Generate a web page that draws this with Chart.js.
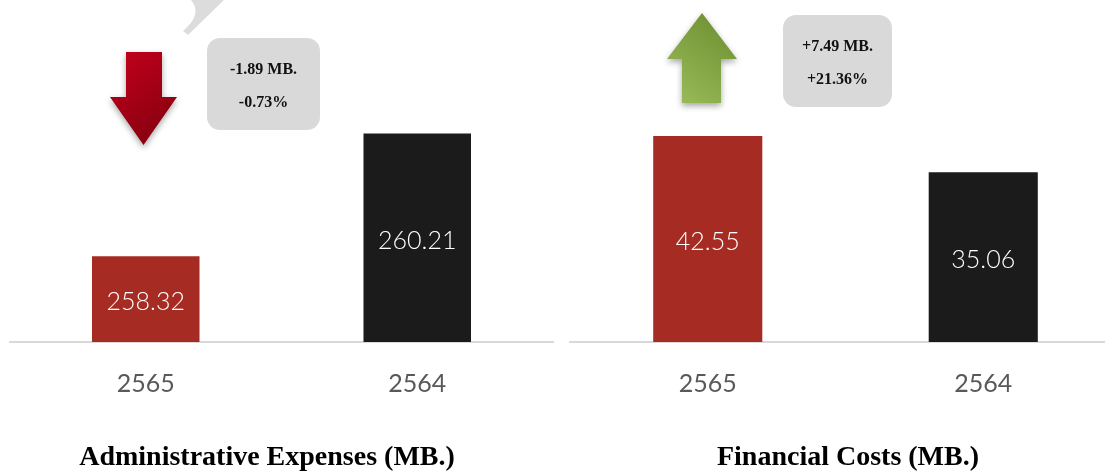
<!DOCTYPE html>
<html lang="en">
<head>
<meta charset="UTF-8">
<title>Administrative Expenses and Financial Costs</title>
<script src="https://cdn.jsdelivr.net/npm/chart.js"></script>
<style>
  html, body { margin: 0; padding: 0; background: #fff; overflow: hidden; }
  body { width: 1105px; height: 471px; position: relative; }
  .panel { position: absolute; top: 0; height: 471px; }
  #leftPanel { left: 0; width: 560px; }
  #rightPanel { left: 560px; width: 562px; }
</style>
</head>
<body>
<div class="panel" id="leftPanel"><canvas id="adminChart"></canvas></div>
<div class="panel" id="rightPanel"><canvas id="finChart"></canvas></div>
<script>
const years = ['2565', '2564'];
const adminValues = [258.32, 260.21];
const financeValues = [42.55, 35.06];
const adminChange = ['-1.89 MB.', '-0.73%'];
const financeChange = ['+7.49 MB.', '+21.36%'];
const barColors = ['#a62b22', '#1b1b1b'];

// white value text in the middle of each bar
const barValues = {
  id: 'barValues',
  afterDatasetsDraw(chart) {
    const ctx = chart.ctx;
    const meta = chart.getDatasetMeta(0);
    const data = chart.data.datasets[0].data;
    const bottom = chart.chartArea.bottom;
    ctx.save();
    ctx.fillStyle = '#ffffff';
    ctx.font = '300 25px Lato';
    ctx.textAlign = 'center';
    ctx.textBaseline = 'middle';
    meta.data.forEach((bar, i) => {
      const base = Math.min(bar.base, bottom);
      ctx.fillText(data[i].toFixed(2), bar.x, (bar.y + base) / 2 + 3);
    });
    ctx.restore();
  }
};

function roundBox(ctx, x, y, w, h, r) {
  ctx.beginPath();
  ctx.moveTo(x + r, y);
  ctx.arcTo(x + w, y, x + w, y + h, r);
  ctx.arcTo(x + w, y + h, x, y + h, r);
  ctx.arcTo(x, y + h, x, y, r);
  ctx.arcTo(x, y, x + w, y, r);
  ctx.closePath();
}

function drawCallout(ctx, box, lines) {
  ctx.save();
  ctx.fillStyle = '#d9d9d9';
  roundBox(ctx, box.x, box.y, box.w, box.h, 13);
  ctx.fill();
  ctx.fillStyle = '#111';
  ctx.font = 'bold 16px "Liberation Serif"';
  ctx.textAlign = 'center';
  ctx.textBaseline = 'middle';
  const cx = box.x + box.w / 2;
  ctx.fillText(lines[0], cx, box.y + box.h * 0.35);
  ctx.fillText(lines[1], cx, box.y + box.h * 0.71);
  ctx.restore();
}

function drawArrow(ctx, a, c1, c2) {
  ctx.save();
  ctx.shadowColor = 'rgba(0,0,0,0.35)';
  ctx.shadowBlur = 6;
  ctx.shadowOffsetY = 3;
  const g = ctx.createLinearGradient(a.hx1, a.tail, a.hx2, a.tip);
  g.addColorStop(0, c1);
  g.addColorStop(1, c2);
  ctx.fillStyle = g;
  ctx.beginPath();
  ctx.moveTo(a.sx1, a.tail);
  ctx.lineTo(a.sx2, a.tail);
  ctx.lineTo(a.sx2, a.neck);
  ctx.lineTo(a.hx2, a.neck);
  ctx.lineTo((a.hx1 + a.hx2) / 2, a.tip);
  ctx.lineTo(a.hx1, a.neck);
  ctx.lineTo(a.sx1, a.neck);
  ctx.closePath();
  ctx.fill();
  ctx.restore();
}

function makeChart(id, values, yMin, yMax, title, titleX, padRight, decorate) {
  return new Chart(document.getElementById(id), {
    type: 'bar',
    data: {
      labels: years,
      datasets: [{
        data: values,
        backgroundColor: barColors,
        barPercentage: 0.8,
        categoryPercentage: 0.495
      }]
    },
    options: {
      responsive: true,
      maintainAspectRatio: false,
      animation: false,
      layout: { padding: { top: 40, left: 10, right: padRight, bottom: 45 } },
      plugins: { legend: { display: false }, tooltip: { enabled: false }, title: { display: false } },
      scales: {
        x: {
          grid: { display: false, drawTicks: false },
          border: { color: '#d9d9d9', width: 2 },
          ticks: { color: '#595959', font: { family: 'Lato', size: 25 }, padding: 27 }
        },
        y: { display: false, min: yMin, max: yMax }
      }
    },
    plugins: [barValues, {
      id: 'decor',
      afterDraw(chart) {
        const ctx = chart.ctx;
        decorate(ctx);
        ctx.save();
        ctx.fillStyle = '#000';
        ctx.font = 'bold 28px "Liberation Serif"';
        ctx.textAlign = 'center';
        ctx.textBaseline = 'middle';
        ctx.fillText(title, titleX, 458);
        ctx.restore();
      }
    }]
  });
}

makeChart('adminChart', adminValues, 257, 261.65, 'Administrative Expenses (MB.)', 267, 7, ctx => {
  // faint grey swoosh at the top edge
  ctx.save();
  ctx.fillStyle = '#dcdcdc';
  ctx.beginPath();
  ctx.moveTo(191, 0);
  ctx.quadraticCurveTo(203, 14, 183, 31);
  ctx.lineTo(188, 35);
  ctx.lineTo(224, 0);
  ctx.closePath();
  ctx.fill();
  ctx.restore();
  drawArrow(ctx, { sx1: 126, sx2: 162, tail: 52, neck: 97, hx1: 110, hx2: 177, tip: 145 }, '#c4001c', '#7e000e');
  drawCallout(ctx, { x: 207, y: 38, w: 113, h: 92 }, adminChange);
});

makeChart('finChart', financeValues, 0, 62.4, 'Financial Costs (MB.)', 288, 1, ctx => {
  drawArrow(ctx, { sx1: 122, sx2: 161, tail: 103, neck: 59, hx1: 107, hx2: 177, tip: 13 }, '#9cbd5a', '#6a8c2e');
  drawCallout(ctx, { x: 223, y: 15, w: 109, h: 92 }, financeChange);
});
</script>
</body>
</html>
